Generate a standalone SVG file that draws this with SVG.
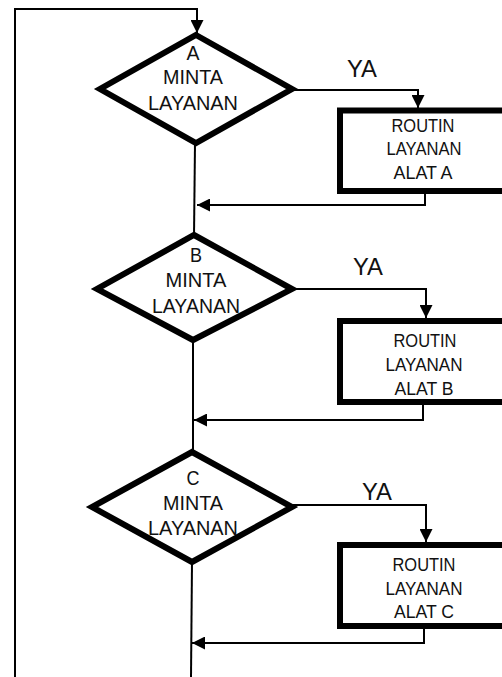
<svg xmlns="http://www.w3.org/2000/svg" width="502" height="677" viewBox="0 0 502 677">
<style>
.shape{fill:#fff;stroke:#000;stroke-width:6;stroke-linejoin:miter;stroke-miterlimit:10}
.box{fill:#fff;stroke:#000;stroke-width:6}
.conn{fill:none;stroke:#000;stroke-width:2}
.t{font-family:"Liberation Sans",Arial,sans-serif;fill:#111;text-anchor:middle}
.dt{font-size:21px}
.bt{font-size:18.5px}
.ya{font-size:23px}
</style>
<defs>
<marker id="ah" markerUnits="userSpaceOnUse" markerWidth="13" markerHeight="13" refX="13" refY="6.5" orient="auto">
<path d="M0,0 L13,6.5 L0,13 z" fill="#000"/>
</marker>
</defs>
<g id="connectors">
<path class="conn" d="M15,677 L15,9 L197,9 L197,33" marker-end="url(#ah)"/>
<path class="conn" d="M195,143 L194,236"/>
<path class="conn" d="M193,340 L193,452"/>
<path class="conn" d="M192,562 L191,677"/>
<path class="conn" d="M293,90 L418,90 L418,108" marker-end="url(#ah)"/>
<path class="conn" d="M293,289 L426,289 L426,318" marker-end="url(#ah)"/>
<path class="conn" d="M292,505 L426,505 L426,542" marker-end="url(#ah)"/>
<path class="conn" d="M425,193 L425,205 L197,205" marker-end="url(#ah)"/>
<path class="conn" d="M423,404 L423,420 L194,420" marker-end="url(#ah)"/>
<path class="conn" d="M424,628 L424,643 L192,643" marker-end="url(#ah)"/>
<text class="t ya" x="362" y="77" textLength="30" lengthAdjust="spacingAndGlyphs">YA</text>
<text class="t ya" x="368" y="275" textLength="30" lengthAdjust="spacingAndGlyphs">YA</text>
<text class="t ya" x="377" y="500" textLength="30" lengthAdjust="spacingAndGlyphs">YA</text>
</g>
<g id="decision-a">
<polygon class="shape" points="196,35 292,89 196,143 100,89"/>
<text class="t dt" x="193" y="60" textLength="13" lengthAdjust="spacingAndGlyphs">A</text>
<text class="t dt" x="193" y="84" textLength="60" lengthAdjust="spacingAndGlyphs">MINTA</text>
<text class="t dt" x="193" y="110" textLength="90" lengthAdjust="spacingAndGlyphs">LAYANAN</text>
</g>
<g id="routine-a">
<rect class="box" x="340" y="110.5" width="190" height="80.5"/>
<text class="t bt" x="423" y="132" textLength="63" lengthAdjust="spacingAndGlyphs">ROUTIN</text>
<text class="t bt" x="424" y="155" textLength="75" lengthAdjust="spacingAndGlyphs">LAYANAN</text>
<text class="t bt" x="423" y="179" textLength="59" lengthAdjust="spacingAndGlyphs">ALAT A</text>
</g>
<g id="decision-b">
<polygon class="shape" points="194,235 292,289 193,340 97,289"/>
<text class="t dt" x="196" y="262" textLength="12" lengthAdjust="spacingAndGlyphs">B</text>
<text class="t dt" x="196" y="287" textLength="61" lengthAdjust="spacingAndGlyphs">MINTA</text>
<text class="t dt" x="196" y="313" textLength="88" lengthAdjust="spacingAndGlyphs">LAYANAN</text>
</g>
<g id="routine-b">
<rect class="box" x="340" y="321" width="190" height="81"/>
<text class="t bt" x="425" y="347" textLength="63" lengthAdjust="spacingAndGlyphs">ROUTIN</text>
<text class="t bt" x="424" y="371" textLength="77" lengthAdjust="spacingAndGlyphs">LAYANAN</text>
<text class="t bt" x="424" y="395" textLength="59" lengthAdjust="spacingAndGlyphs">ALAT B</text>
</g>
<g id="decision-c">
<polygon class="shape" points="192,452 292,507 192,562 92,507"/>
<text class="t dt" x="193" y="485" textLength="13" lengthAdjust="spacingAndGlyphs">C</text>
<text class="t dt" x="193" y="510" textLength="60" lengthAdjust="spacingAndGlyphs">MINTA</text>
<text class="t dt" x="193" y="535" textLength="90" lengthAdjust="spacingAndGlyphs">LAYANAN</text>
</g>
<g id="routine-c">
<rect class="box" x="340" y="545" width="190" height="81"/>
<text class="t bt" x="424" y="571" textLength="63" lengthAdjust="spacingAndGlyphs">ROUTIN</text>
<text class="t bt" x="424" y="595" textLength="77" lengthAdjust="spacingAndGlyphs">LAYANAN</text>
<text class="t bt" x="424" y="618" textLength="60" lengthAdjust="spacingAndGlyphs">ALAT C</text>
</g>
</svg>
